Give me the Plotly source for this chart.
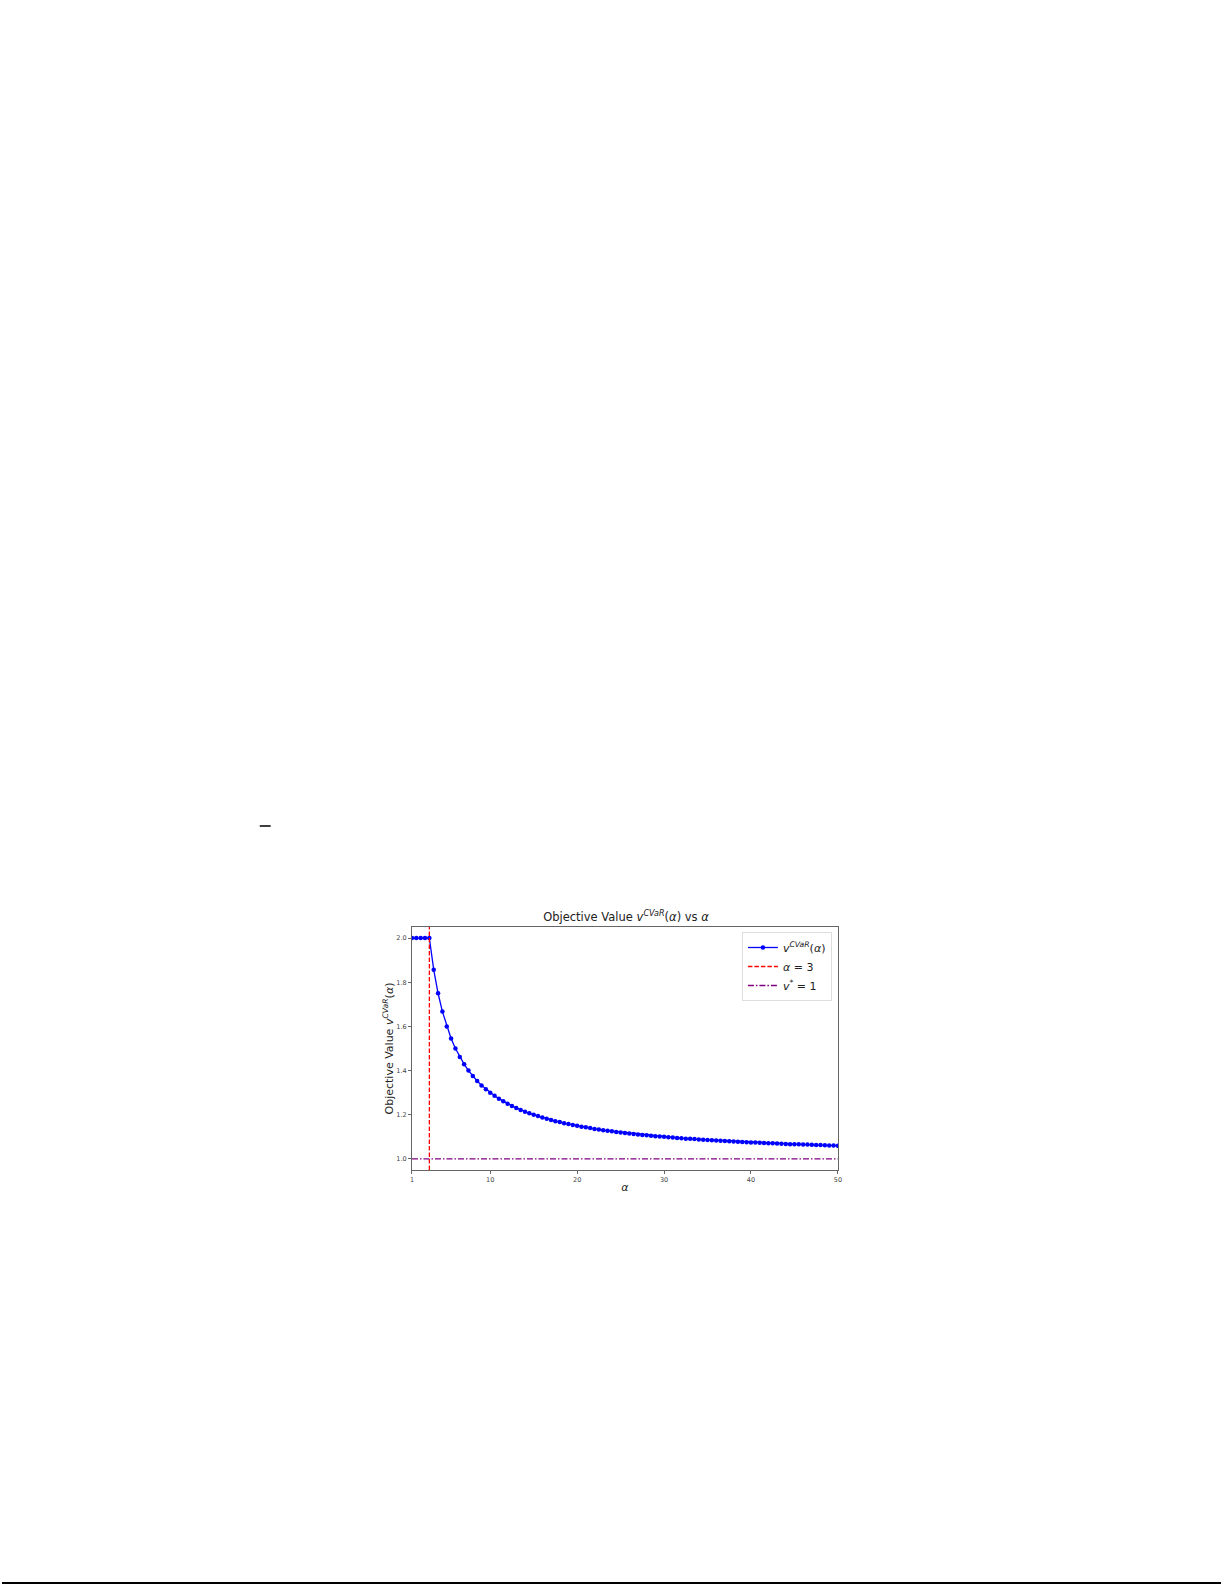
import plotly.graph_objects as go

# alpha grid (step 0.5) and objective values
alpha = [1, 1.5, 2, 2.5, 3, 3.5, 4, 4.5, 5, 5.5, 6, 6.5, 7, 7.5, 8, 8.5, 9, 9.5, 10,
         10.5, 11, 11.5, 12, 12.5, 13, 13.5, 14, 14.5, 15, 15.5, 16, 16.5, 17, 17.5,
         18, 18.5, 19, 19.5, 20, 20.5, 21, 21.5, 22, 22.5, 23, 23.5, 24, 24.5, 25,
         25.5, 26, 26.5, 27, 27.5, 28, 28.5, 29, 29.5, 30, 30.5, 31, 31.5, 32, 32.5,
         33, 33.5, 34, 34.5, 35, 35.5, 36, 36.5, 37, 37.5, 38, 38.5, 39, 39.5, 40,
         40.5, 41, 41.5, 42, 42.5, 43, 43.5, 44, 44.5, 45, 45.5, 46, 46.5, 47, 47.5,
         48, 48.5, 49, 49.5, 50]

v_cvar = [2.0, 2.0, 2.0, 2.0, 2.0, 1.857, 1.75, 1.667, 1.6, 1.545, 1.5, 1.462, 1.429,
          1.4, 1.375, 1.353, 1.333, 1.316, 1.3, 1.286, 1.273, 1.261, 1.25, 1.24, 1.231,
          1.222, 1.214, 1.207, 1.2, 1.194, 1.188, 1.182, 1.176, 1.171, 1.167, 1.162,
          1.158, 1.154, 1.15, 1.146, 1.143, 1.14, 1.136, 1.133, 1.13, 1.128, 1.125,
          1.122, 1.12, 1.118, 1.115, 1.113, 1.111, 1.109, 1.107, 1.105, 1.103, 1.102,
          1.1, 1.098, 1.097, 1.095, 1.094, 1.092, 1.091, 1.09, 1.088, 1.087, 1.086,
          1.085, 1.083, 1.082, 1.081, 1.08, 1.079, 1.078, 1.077, 1.076, 1.075, 1.074,
          1.073, 1.072, 1.071, 1.071, 1.07, 1.069, 1.068, 1.067, 1.067, 1.066, 1.065,
          1.065, 1.064, 1.063, 1.063, 1.062, 1.061, 1.061, 1.06]

alpha_cut = 3
v_star = 1

x_ticks = [1, 10, 20, 30, 40, 50]
y_ticks = [1.0, 1.2, 1.4, 1.6, 1.8, 2.0]
x_range = [1, 50]
y_range = [0.95, 2.05]

W, H = 1225, 1585
font = "DejaVu Sans"

fig = go.Figure()

fig.add_trace(go.Scatter(
    x=alpha, y=v_cvar, mode='lines+markers',
    name='<i>v</i><sup><i>CVaR</i></sup>(<i>α</i>)',
    line=dict(color='#0000ff', width=1.3),
    marker=dict(color='#0000ff', size=4.5)
))

fig.add_trace(go.Scatter(
    x=[alpha_cut, alpha_cut], y=y_range, mode='lines',
    name='<i>α</i> = 3',
    line=dict(color='red', width=1.3, dash='4.5px,2px')
))

fig.add_trace(go.Scatter(
    x=x_range, y=[v_star, v_star], mode='lines',
    name='<i>v</i><sup>*</sup> = 1',
    line=dict(color='purple', width=1.3, dash='6px,2px,1.5px,2px')
))

axis_style = dict(
    showline=True, mirror=True, linecolor='#666', linewidth=1,
    showgrid=False, zeroline=False,
    ticks='outside', ticklen=3, tickcolor='#666', tickwidth=1,
    tickfont=dict(family=font, size=6.5, color='#444'),
)

fig.update_layout(
    width=W, height=H,
    margin=dict(l=0, r=0, t=0, b=0),
    paper_bgcolor='white', plot_bgcolor='white',
    font=dict(family=font, color='#222'),
    title=dict(
        text='Objective Value <i>v</i><sup><i>CVaR</i></sup>(<i>α</i>) vs <i>α</i>',
        x=626 / W, xanchor='center', y=1 - 917 / H, yanchor='middle',
        font=dict(family=font, size=11.5, color='#222')
    ),
    xaxis=dict(
        domain=[412 / W, 840 / W], range=x_range, tickvals=x_ticks,
        title=dict(text='<i>α</i>', font=dict(family=font, size=11), standoff=0),
        **axis_style
    ),
    yaxis=dict(
        domain=[1 - 1170 / H, 1 - 927 / H], range=y_range, tickvals=y_ticks,
        tickformat='.1f',
        title=dict(text='Objective Value <i>v</i><sup><i>CVaR</i></sup>(<i>α</i>)',
                   font=dict(family=font, size=11), standoff=0),
        **axis_style
    ),
    legend=dict(
        x=834 / W, xanchor='right', y=1 - 932 / H, yanchor='top',
        bgcolor='white', bordercolor='#ddd', borderwidth=1,
        font=dict(family=font, size=11, color='#222'),
        tracegroupgap=0
    ),
    shapes=[
        # page rule at the bottom and the stray dash above the figure
        dict(type='line', xref='paper', yref='paper', x0=0, x1=1,
             y0=1 - 1583 / H, y1=1 - 1583 / H, line=dict(color='black', width=2)),
        dict(type='line', xref='paper', yref='paper', x0=259 / W, x1=270 / W,
             y0=1 - 826 / H, y1=1 - 826 / H, line=dict(color='black', width=1.5)),
    ]
)

fig.write_html("out.html", config={'displayModeBar': False},
               post_script="document.body.style.margin='0';")
